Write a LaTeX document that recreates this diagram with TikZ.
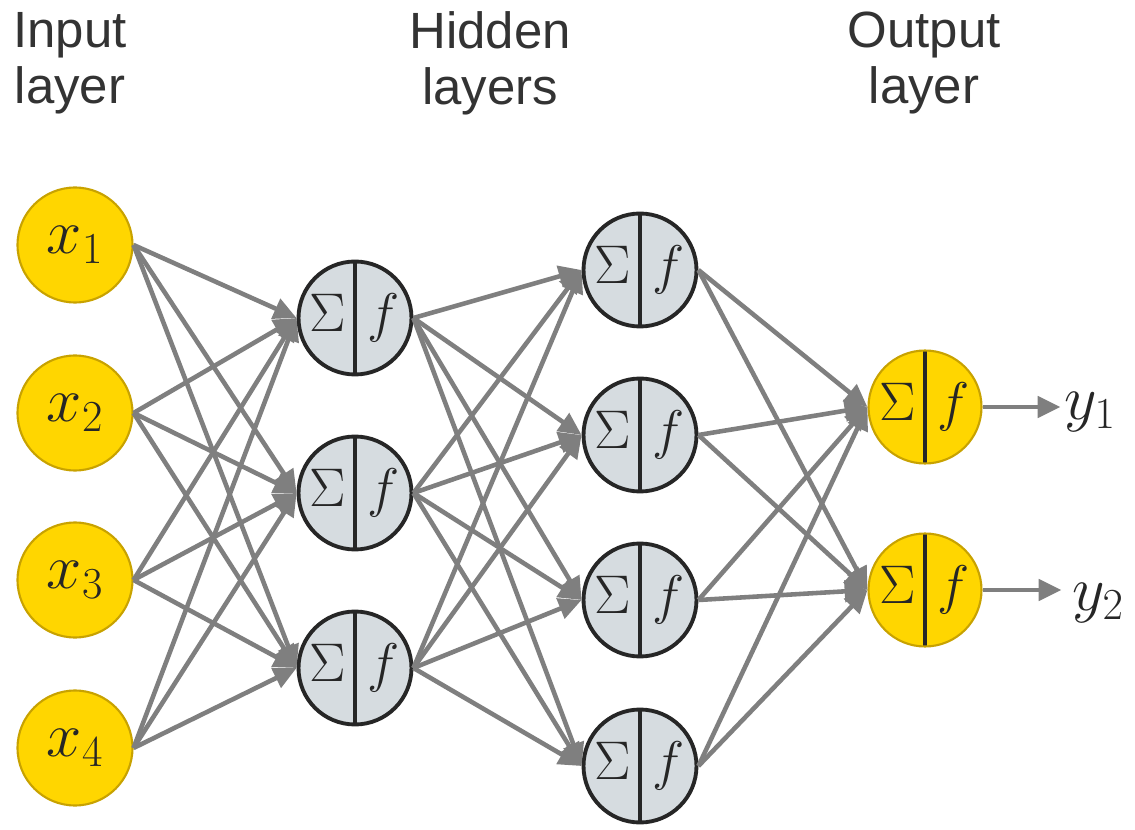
\documentclass[tikz,border=0pt]{standalone}
\usepackage{fix-cm}
\usepackage{fontspec}
\setmainfont{Liberation Sans}
\usetikzlibrary{arrows.meta}
\definecolor{nyellow}{HTML}{FFD600}
\definecolor{nborder}{HTML}{C8A200}
\definecolor{ngray}{HTML}{D6DCE0}
\definecolor{ndark}{HTML}{262626}
\definecolor{edgegray}{HTML}{7F7F7F}
\definecolor{labelgray}{HTML}{333333}
\newcommand{\sigf}{\makebox[0pt]{\makebox[1.15cm]{$\Sigma$}\makebox[1.1cm]{$f$}}}
\tikzset{
  inputnode/.style={circle, draw=nborder, line width=1.2pt, fill=nyellow,
    minimum size=2.3cm, inner sep=0pt, text=ndark, font=\fontsize{36}{38}\selectfont},
  neuron/.style={circle, draw=ndark, line width=2.2pt, fill=ngray,
    minimum size=2.26cm, inner sep=0pt, text=ndark, font=\fontsize{31}{34}\selectfont,
    path picture={\draw[ndark, line width=2.2pt]
      (path picture bounding box.north) -- (path picture bounding box.south);}},
  outnode/.style={neuron, draw=nborder, line width=1.2pt, fill=nyellow,
    path picture={\draw[ndark, line width=2.8pt]
      (path picture bounding box.north) -- (path picture bounding box.south);}},
  layertitle/.style={align=center, inner sep=0pt, text=labelgray,
    font=\fontsize{29}{32}\selectfont},
}
\begin{document}
\begin{tikzpicture}[x=0.02cm, y=-0.02cm]
  \useasboundingbox (0,0) rectangle (1135,830);
  \draw
    (70,63) node[layertitle] (tin){Input\\layer}
    (490,63) node[layertitle] (thid){Hidden\\layers}
    (924,63) node[layertitle] (tout){Output\\layer};
  \draw
    (75,245) node[inputnode] (x1){$x_1$}
    (75,413) node[inputnode] (x2){$x_2$}
    (75,580) node[inputnode] (x3){$x_3$}
    (75,748) node[inputnode] (x4){$x_4$};
  \draw
    (355,318) node[neuron] (a1){\sigf}
    (355,493) node[neuron] (a2){\sigf}
    (355,668) node[neuron] (a3){\sigf};
  \draw
    (640,270) node[neuron] (b1){\sigf}
    (640,435) node[neuron] (b2){\sigf}
    (640,600) node[neuron] (b3){\sigf}
    (640,766) node[neuron] (b4){\sigf};
  \draw
    (925,407) node[outnode] (o1){\sigf}
    (925,590) node[outnode] (o2){\sigf};
  \draw
    (1090,412) node[text=ndark, font=\fontsize{36}{38}\selectfont, inner sep=2pt] (y1){$y_1$}
    (1098,603) node[text=ndark, font=\fontsize{36}{38}\selectfont, inner sep=6pt] (y2){$y_2$};
  \begin{scope}[edgegray, line width=2.6pt, -{Triangle[length=13pt, width=12pt]}]
    \draw (x1.east) to (a1.west);
    \draw (x1.east) to (a2.west);
    \draw (x1.east) to (a3.west);
    \draw (x2.east) to (a1.west);
    \draw (x2.east) to (a2.west);
    \draw (x2.east) to (a3.west);
    \draw (x3.east) to (a1.west);
    \draw (x3.east) to (a2.west);
    \draw (x3.east) to (a3.west);
    \draw (x4.east) to (a1.west);
    \draw (x4.east) to (a2.west);
    \draw (x4.east) to (a3.west);
    \draw (a1.east) to (b1.west);
    \draw (a1.east) to (b2.west);
    \draw (a1.east) to (b3.west);
    \draw (a1.east) to (b4.west);
    \draw (a2.east) to (b1.west);
    \draw (a2.east) to (b2.west);
    \draw (a2.east) to (b3.west);
    \draw (a2.east) to (b4.west);
    \draw (a3.east) to (b1.west);
    \draw (a3.east) to (b2.west);
    \draw (a3.east) to (b3.west);
    \draw (a3.east) to (b4.west);
    \draw (b1.east) to (o1.west);
    \draw (b1.east) to (o2.west);
    \draw (b2.east) to (o1.west);
    \draw (b2.east) to (o2.west);
    \draw (b3.east) to (o1.west);
    \draw (b3.east) to (o2.west);
    \draw (b4.east) to (o1.west);
    \draw (b4.east) to (o2.west);
    \draw (o1.east) to (o1.east -| y1.west);
    \draw (o2.east) to (o2.east -| y2.west);
  \end{scope}
\end{tikzpicture}
\end{document}
